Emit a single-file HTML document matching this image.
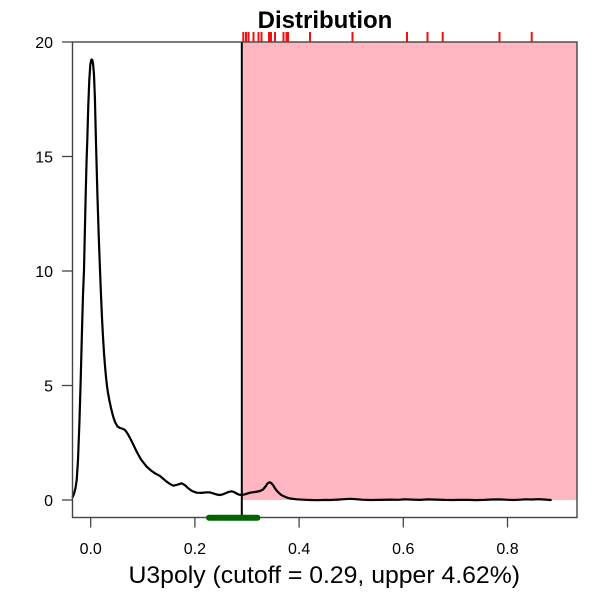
<!DOCTYPE html>
<html><head><meta charset="utf-8"><style>
html,body{margin:0;padding:0;background:#fff;}
svg{display:block;}
text{font-family:"Liberation Sans",Arial,sans-serif;fill:#000;}
</style></head><body>
<svg width="600" height="600" viewBox="0 0 600 600" xmlns="http://www.w3.org/2000/svg">
<rect x="0" y="0" width="600" height="600" fill="#fff"/>
<rect x="241.8" y="42" width="335.2" height="458" fill="#FFB6C1"/>
<polyline fill="none" stroke="#000" stroke-width="2.2" stroke-linejoin="round" stroke-linecap="round" points="
72.7,497 74,494 75.5,488 76.7,480 78,460 79.5,420 80.7,380 82,330 83,295 84,270 85,225 85.8,190 86.6,160 87.3,140 88.3,105 89.3,80 90.3,65 91.2,60 91.7,59.5 92.3,60 93.1,64 94,75 94.9,98 95.8,135 96.6,165 97.5,198 98.7,235 100,270 101,295 102,318 103,337 104,353 105,366 106,377 107,386 108,393 109.5,401 111,408 113,416 115,422 117.5,426.5 120,428 122.5,428.7 125,430 127.5,433.5 130,438 133.5,445 136.7,451.7 141,459.5 146.7,466.7 151,470.5 155,473.3 160,476 163.5,479 166.7,481.7 170,484 173.3,485.7 177,484.8 181.7,483.3 185,485.2 188.3,488.3 192,491 196.7,492.7 201.5,492.9 206.7,492.3 210,492.4 213,493.3 217,494.6 220,495 223,494.3 226,493 229,491.8 231.7,491.3 234,492 236,493.2 239,494.6 241.7,495 245,494.3 250,492.7 255,492 260,491 263,489.5 265.5,486.5 267.5,483.5 269.3,482.3 271,482.8 273,485 275,488.3 277,491 279,493 281,494.8 283.3,496 286.5,497.4 290,498.5 296.7,499.3 303,499.7 310,500 318,500.2 325,499.9 330,500 338,499.6 344,499.2 350,498.8 356,499.2 362,499.7 370,500 380,499.9 390,499.6 398,499.8 405,499.3 412,499.6 420,499.9 428,499.4 436,499.6 444,499.9 452,500 460,499.9 468,499.9 476,500.1 484,499.9 492,499.5 500,499.4 508,499.8 514,500 520,499.7 526,499.3 532,499.5 538,499.2 544,499.5 550.7,500"/>
<line x1="241.8" y1="42" x2="241.8" y2="517.5" stroke="#000" stroke-width="2"/>
<rect x="72.5" y="42" width="504.5" height="475.5" fill="none" stroke="#444" stroke-width="1.4"/>
<line x1="209" y1="517.7" x2="257.5" y2="517.7" stroke="#006400" stroke-width="6" stroke-linecap="round"/>
<g stroke="#ee1111" stroke-width="2">
<line x1="243.3" y1="32" x2="243.3" y2="42"/>
<line x1="246" y1="32" x2="246" y2="42"/>
<line x1="248.5" y1="32" x2="248.5" y2="42"/>
<line x1="253.5" y1="32" x2="253.5" y2="42"/>
<line x1="258.5" y1="32" x2="258.5" y2="42"/>
<line x1="261.5" y1="32" x2="261.5" y2="42"/>
<line x1="269" y1="32" x2="269" y2="42"/>
<line x1="271" y1="32" x2="271" y2="42"/>
<line x1="275" y1="32" x2="275" y2="42"/>
<line x1="283.5" y1="32" x2="283.5" y2="42"/>
<line x1="286.5" y1="32" x2="286.5" y2="42"/>
<line x1="288" y1="32" x2="288" y2="42"/>
<line x1="310" y1="32" x2="310" y2="42"/>
<line x1="352.5" y1="32" x2="352.5" y2="42"/>
<line x1="407" y1="32" x2="407" y2="42"/>
<line x1="427.5" y1="32" x2="427.5" y2="42"/>
<line x1="442.7" y1="32" x2="442.7" y2="42"/>
<line x1="499.5" y1="32" x2="499.5" y2="42"/>
<line x1="531.7" y1="32" x2="531.7" y2="42"/>
</g>
<g stroke="#444" stroke-width="1.3">
<line x1="62" y1="42" x2="72.5" y2="42"/>
<line x1="62" y1="156.5" x2="72.5" y2="156.5"/>
<line x1="62" y1="271" x2="72.5" y2="271"/>
<line x1="62" y1="385.5" x2="72.5" y2="385.5"/>
<line x1="62" y1="500" x2="72.5" y2="500"/>
</g>
<g font-size="16" text-anchor="end">
<text x="53" y="48">20</text>
<text x="53" y="162.5">15</text>
<text x="53" y="277">10</text>
<text x="53" y="391.5">5</text>
<text x="53" y="506">0</text>
</g>
<g stroke="#444" stroke-width="1.3">
<line x1="90.7" y1="517.5" x2="90.7" y2="527.5"/>
<line x1="194.9" y1="517.5" x2="194.9" y2="527.5"/>
<line x1="299.1" y1="517.5" x2="299.1" y2="527.5"/>
<line x1="403.3" y1="517.5" x2="403.3" y2="527.5"/>
<line x1="507.5" y1="517.5" x2="507.5" y2="527.5"/>
</g>
<g font-size="16" text-anchor="middle">
<text x="90.7" y="554">0.0</text>
<text x="194.9" y="554">0.2</text>
<text x="299.1" y="554">0.4</text>
<text x="403.3" y="554">0.6</text>
<text x="507.5" y="554">0.8</text>
</g>
<text x="325" y="28" font-size="24" font-weight="bold" text-anchor="middle">Distribution</text>
<text x="128.5" y="583" font-size="24" textLength="391.5" lengthAdjust="spacingAndGlyphs">U3poly (cutoff = 0.29, upper 4.62%)</text>
</svg>
</body></html>
